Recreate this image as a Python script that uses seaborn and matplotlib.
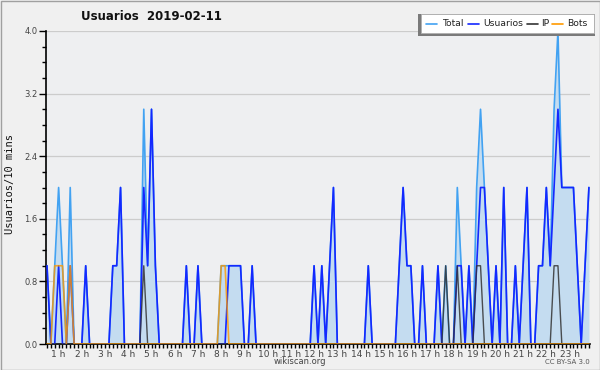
import numpy as np
import pandas as pd
import matplotlib
matplotlib.use("Agg")
import matplotlib.pyplot as plt
from matplotlib.patches import Rectangle
from matplotlib.lines import Line2D
import seaborn as sns

# ---- data (10-minute bins, starting 00:30) ----
usuarios = [1, 0, 0, 1, 0, 0, 1, 0, 0, 0,
            1, 0, 0, 0, 0, 0, 0, 1, 1, 2,
            0, 0, 0, 0, 0, 2, 1, 3, 1, 0,
            0, 0, 0, 0, 0, 0, 1, 0, 0, 1,
            0, 0, 0, 0, 0, 0, 0, 1, 1, 1,
            1, 0, 0, 1, 0, 0, 0, 0, 0, 0,
            0, 0, 0, 0, 0, 0, 0, 0, 0, 1,
            0, 1, 0, 1, 2, 0, 0, 0, 0, 0,
            0, 0, 0, 1, 0, 0, 0, 0, 0, 0,
            0, 1, 2, 1, 1, 0, 0, 1, 0, 0,
            0, 1, 0, 0, 0, 0, 1, 1, 0, 1,
            0, 1, 2, 2, 1, 0, 1, 0, 2, 0,
            0, 1, 0, 1, 2, 0, 0, 1, 1, 2,
            1, 2, 3, 2, 2, 2, 2, 1, 0, 1,
            2]
ip_idx = [25, 103, 106, 111, 112, 131, 132]
bots_idx = [2, 3, 4, 6, 45, 46]
series_names = ["Total", "Usuarios", "IP", "Bots"]
hour_labels = [f"{h} h" for h in range(1, 24)]

n = len(usuarios)
ip = [1 if i in ip_idx else 0 for i in range(n)]
bots = [1 if i in bots_idx else 0 for i in range(n)]
total = [u + a + b for u, a, b in zip(usuarios, ip, bots)]
hours = [0.5 + i / 6 for i in range(n)]

df = pd.DataFrame({"t": hours, "Total": total, "Usuarios": usuarios,
                   "IP": ip, "Bots": bots})

sns.set_style("white")
plt.rcParams['font.family'] = ['DejaVu Sans']

W, H = 600, 370
fig = plt.figure(figsize=(6, 3.7), dpi=100, facecolor='#f0f0f0')
ax = fig.add_axes([46/W, 26/H, 544/W, 313/H])
ax.set_facecolor('#eeeff1')

c_total = '#42a2f2'
c_user = '#1428ff'
c_ip = '#333333'
c_bots = '#ff9a00'
colors = [c_total, c_user, c_ip, c_bots]

ax.fill_between(df["t"], df["Total"], color='#c4dcf0', lw=0, zorder=1)
for yv in [0.8, 1.6, 2.4, 3.2, 4.0]:
    ax.axhline(yv, color='#cccccc', lw=0.9, zorder=0.5)
sns.lineplot(data=df, x="t", y="Total", ax=ax, color=c_total, lw=1.2, zorder=2)
sns.lineplot(data=df, x="t", y="Usuarios", ax=ax, color=c_user, lw=1.2, zorder=3)
sns.lineplot(data=df, x="t", y="IP", ax=ax, color=c_ip, lw=1.0, alpha=0.85, zorder=4)
sns.lineplot(data=df, x="t", y="Bots", ax=ax, color=c_bots, lw=1.2, alpha=0.8, zorder=5)

ax.set_xlim(0.457, 23.88)
ax.set_ylim(0, 4.0)
ax.set_xlabel("")
ax.set_ylabel("")

for s in ['top', 'right']:
    ax.spines[s].set_visible(False)
for s in ['left', 'bottom']:
    ax.spines[s].set_color('black')
    ax.spines[s].set_linewidth(1.2)

ax.set_yticks([0, 0.8, 1.6, 2.4, 3.2, 4.0])
ax.set_yticklabels(["0.0", "0.8", "1.6", "2.4", "3.2", "4.0"])
ax.set_yticks(np.arange(0, 4.01, 0.2), minor=True)
ax.tick_params(axis='y', which='major', length=5, width=1, color='black',
               labelsize=6, labelcolor='#444444', pad=1, left=True)
ax.tick_params(axis='y', which='minor', length=3, width=1, color='black', left=True)

ax.set_xticks(list(range(1, 24)))
ax.set_xticklabels(hour_labels)
ax.set_xticks(np.arange(0.5, 23.9, 1/6), minor=True)
ax.tick_params(axis='x', which='major', length=3, width=1, color='black',
               labelsize=6.5, labelcolor='#444444', pad=1, bottom=True)
ax.tick_params(axis='x', which='minor', length=3, width=1, color='black', bottom=True)

fig.text(10/W, 1 - 184/H, "Usuarios/10 mins", rotation=90, ha='center', va='center',
         family='DejaVu Sans Mono', fontsize=7.5, color='#111111')
fig.text(151/W, 1 - 17/H, "Usuarios  2019-02-11", ha='center', va='center',
         fontsize=8.5, fontweight='bold', color='#111111')
fig.text(300/W, 1 - 362/H, "wikiscan.org", ha='center', va='center',
         fontsize=6, color='#444444')
fig.text(590/W, 1 - 362/H, "CC BY-SA 3.0", ha='right', va='center',
         fontsize=5, color='#555555')

# manual legend box with shadow
def px_rect(x0, y0, x1, y1, **kw):
    return Rectangle((x0/W, 1 - y1/H), (x1 - x0)/W, (y1 - y0)/H,
                     transform=fig.transFigure, **kw)

fig.patches.append(px_rect(418, 14, 595, 36, facecolor='#7a7a7a', edgecolor='none', zorder=5))
fig.patches.append(px_rect(421, 14.5, 594, 33, facecolor='white', edgecolor='#b0b0b0',
                           lw=0.6, zorder=6))
line_x = [426, 468, 527, 552]
text_x = [442, 483, 541, 567]
for name, c, lx, tx in zip(series_names, colors, line_x, text_x):
    fig.lines.append(Line2D([lx/W, (lx + 11)/W], [1 - 24/H, 1 - 24/H],
                            transform=fig.transFigure, color=c, lw=1.2, zorder=7))
    fig.text(tx/W, 1 - 24/H, name, ha='left', va='center', fontsize=6.7,
             color='#222222', zorder=7)

fig.patches.append(px_rect(0.5, 0.5, 599.5, 369.5, facecolor='none',
                           edgecolor='#a0a0a0', lw=1, zorder=10))

fig.savefig("out.png", dpi=100, facecolor=fig.get_facecolor())
